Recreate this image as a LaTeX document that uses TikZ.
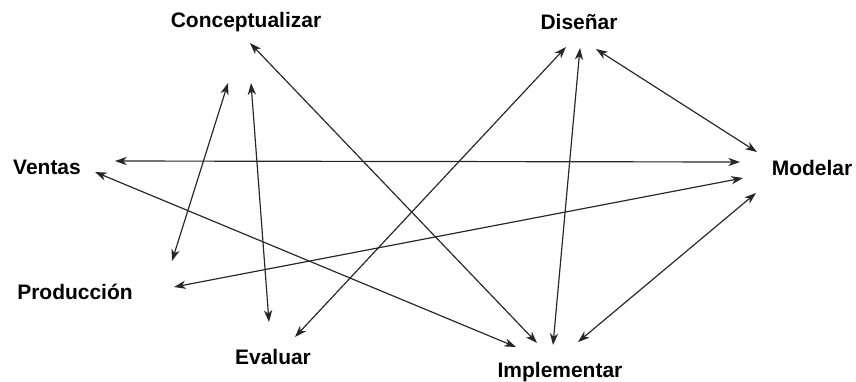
\documentclass[tikz,border=0pt]{standalone}
\usepackage{fontspec}
\setmainfont{Liberation Sans}
\usetikzlibrary{arrows.meta}

\begin{document}
\begin{tikzpicture}[
    x=0.03cm, y=-0.03cm,
    phase/.style={anchor=base, inner sep=0pt, font=\bfseries\fontsize{17.9}{20}\selectfont},
    connection/.style={{Stealth[length=10pt,width=7pt,inset=3pt]}-{Stealth[length=10pt,width=7pt,inset=3pt]}, line width=1pt, black!85}
  ]
    \useasboundingbox (0,0) rectangle (856,381);

    % Phases
    \node[phase] (conceptualizar) at (246,27) {Conceptualizar};
    \node[phase] (disenar) at (579,29) {Diseñar};
    \node[phase] (ventas) at (47,174) {Ventas};
    \node[phase] (modelar) at (812,175) {Modelar};
    \node[phase] (produccion) at (75,299) {Producción};
    \node[phase] (evaluar) at (273,364) {Evaluar};
    \node[phase] (implementar) at (560,377) {Implementar};

    % Arrow ends
    \coordinate (ventas-modelar) at (115,161);
    \coordinate (modelar-ventas) at (740,162);
    \coordinate (ventas-implementar) at (95,172);
    \coordinate (implementar-ventas) at (516,347);
    \coordinate (conceptualizar-implementar) at (250,43);
    \coordinate (implementar-conceptualizar) at (537,343);
    \coordinate (conceptualizar-produccion) at (228,83);
    \coordinate (produccion-conceptualizar) at (172,261);
    \coordinate (conceptualizar-evaluar) at (251,83);
    \coordinate (evaluar-conceptualizar) at (269,322);
    \coordinate (disenar-evaluar) at (566,47);
    \coordinate (evaluar-disenar) at (295,337);
    \coordinate (disenar-implementar) at (580,48);
    \coordinate (implementar-disenar) at (553,345);
    \coordinate (disenar-modelar) at (596,49);
    \coordinate (modelar-disenar) at (757,152);
    \coordinate (modelar-produccion) at (743,178);
    \coordinate (produccion-modelar) at (174,287);
    \coordinate (modelar-implementar) at (756,193);
    \coordinate (implementar-modelar) at (578,342);

    % Connections
    \foreach \a/\b in {ventas/modelar, ventas/implementar,
                       conceptualizar/implementar, conceptualizar/produccion,
                       conceptualizar/evaluar, disenar/evaluar,
                       disenar/implementar, disenar/modelar,
                       modelar/produccion, modelar/implementar}
      \draw[connection] (\a-\b) -- (\b-\a);

  \end{tikzpicture}
\end{document}
